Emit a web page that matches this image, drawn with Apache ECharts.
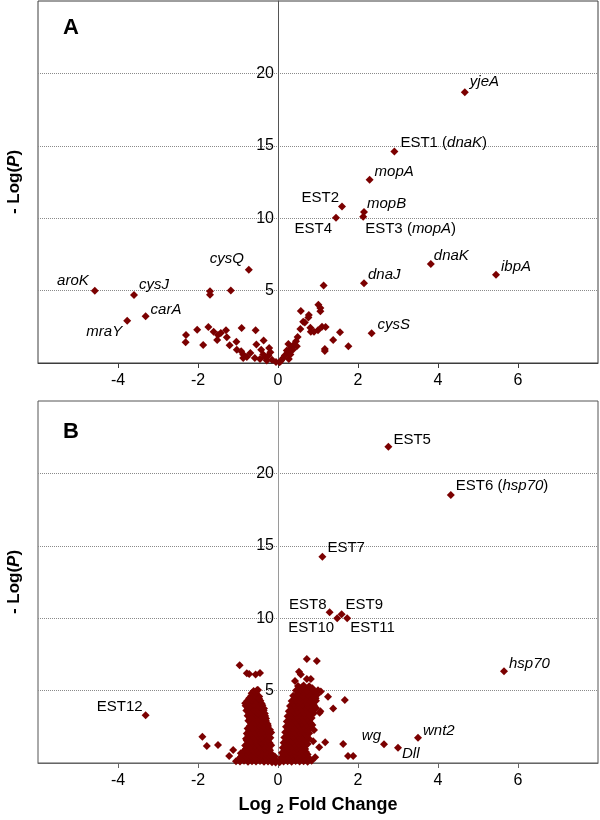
<!DOCTYPE html>
<html><head><meta charset="utf-8">
<script src="https://cdn.jsdelivr.net/npm/echarts@6/dist/echarts.min.js"></script>
<style>html,body{margin:0;padding:0;background:#fff}#c{width:600px;height:820px}</style>
</head><body><div id="c"></div>
<script>
// ---------- data ----------
const xRange = [-6, 8];
const yRange = [0, 25];

// Panel A: labelled genes
const aNames = ['yjeA','EST1 (dnaK)','mopA','EST2','mopB','EST3 (mopA)','EST4','dnaK','ibpA','dnaJ','cysS','cysQ','aroK','cysJ','carA','mraY'];
const aNameX = [4.67, 2.91, 2.29, 1.60, 2.15, 2.13, 1.45, 3.82, 5.45, 2.15, 2.34, -0.73, -4.58, -3.60, -3.31, -3.77];
const aNameY = [18.7, 14.6, 12.66, 10.8, 10.43, 10.1, 10.03, 6.84, 6.1, 5.5, 2.05, 6.44, 4.99, 4.7, 3.22, 2.92];
// Panel A: other points
const aOther = [
 [-1.7,4.95],[-1.7,4.72],[-1.18,5.0],[1.14,5.36],
 [1.01,4.03],[1.06,3.8],[1.06,3.57],[0.57,3.59],[0.77,3.31],[0.76,3.15],[0.63,2.85],[1.19,2.49],[1.0,2.26],[0.82,2.16],[0.56,2.35],[1.55,2.12],[0.81,2.44],[1.38,1.59],[1.76,1.15],[1.17,0.97],[1.17,0.83],[0.49,1.8],[0.45,1.5],[0.4,1.27],[0.26,1.31],[0.33,1.04],[0.22,0.87],[0.24,0.69],[0.17,0.51],[0.13,0.35],[0.08,0.18],[0.27,0.28],[0.37,0.92],[0.47,1.15],[0.04,0.05],[0.31,0.58],[0.67,2.8],[0.9,2.16],[1.1,2.5],
 [-2.3,1.93],[-2.31,1.43],[-2.02,2.3],[-1.87,1.24],[-1.74,2.49],[-1.61,2.16],[-1.5,1.93],[-1.52,1.59],[-1.43,2.07],[-1.3,2.26],[-1.28,1.77],[-1.21,1.22],[-1.04,1.47],[-0.91,2.42],[-0.56,2.26],[-1.03,0.92],[-0.92,0.81],[-0.87,0.58],[-0.87,0.35],[-0.69,0.69],[-0.54,1.27],[-0.36,1.56],[-0.42,0.92],[-0.22,1.04],[-0.58,0.35],[-0.45,0.28],[-0.33,0.41],[-0.24,0.51],[-0.15,0.23],[-0.05,0.07],[-0.28,0.18],[-0.78,0.41],[-0.37,0.58],[-0.19,0.74]
];

// Panel B: labelled genes
const bNames = ['EST5','EST6 (hsp70)','EST7','EST8','EST9','EST10','EST11','hsp70','EST12','wg','Dll','wnt2'];
const bNameX = [2.76, 4.32, 1.11, 1.29, 1.59, 1.48, 1.73, 5.65, -3.31, 2.65, 3.0, 3.5];
const bNameY = [21.84, 18.5, 14.24, 10.41, 10.28, 10.0, 10.0, 6.34, 3.29, 1.3, 1.05, 1.75];
// Panel B: scattered points
const bOutliers = [
 [-1.89,1.82],[-1.78,1.17],[-1.5,1.24],[-1.22,0.48],[-1.12,0.9],[-0.93,0.67],
 [-0.96,6.75],[-0.78,6.2],[-0.72,6.15],[-0.56,6.12],[-0.45,6.22],[-0.52,5.04],[-0.72,4.4],[-0.475,4.45],
 [0.72,7.18],[0.97,7.04],[0.525,6.31],[0.57,6.12],[0.425,5.66],[0.72,5.8],[0.82,5.8],[0.61,5.27],[0.86,5.16],[1.07,4.93],[0.97,4.7],[1.25,4.58],[1.67,4.35],[1.38,3.77],[1.04,3.47],[0.86,2.62],[0.9,2.28],[1.18,1.43],[1.03,1.08],[1.63,1.31],[0.93,0.39],[1.75,0.48],[1.88,0.48],[0.88,1.5],[1.06,3.57]
];
// Panel B: dense left arm
const bLeft = [
 [-1.05,0.12],[-0.95,0.1],[-0.85,0.15],[-0.75,0.08],[-0.65,0.12],[-0.55,0.1],[-0.45,0.14],[-0.35,0.08],[-0.25,0.1],[-0.15,0.05],[-0.06,0.04],
 [-0.98,0.28],[-0.86,0.3],[-0.74,0.26],[-0.62,0.3],[-0.5,0.27],[-0.38,0.3],[-0.27,0.26],[-0.16,0.22],[-0.05,0.18],
 [-0.92,0.45],[-0.8,0.42],[-0.68,0.48],[-0.56,0.4],[-0.44,0.46],[-0.32,0.43],[-0.21,0.38],[-0.1,0.3],
 [-0.89,0.62],[-0.77,0.64],[-0.65,0.6],[-0.53,0.63],[-0.41,0.6],[-0.3,0.62],[-0.2,0.55],[-0.08,0.45],
 [-0.86,0.82],[-0.74,0.78],[-0.62,0.85],[-0.5,0.76],[-0.38,0.8],[-0.27,0.74],[-0.16,0.62],
 [-0.8,0.98],[-0.68,1.0],[-0.56,0.96],[-0.44,0.99],[-0.32,0.97],[-0.2,0.88],
 [-0.82,1.2],[-0.7,1.12],[-0.58,1.18],[-0.46,1.1],[-0.34,1.15],[-0.23,1.02],
 [-0.76,1.33],[-0.64,1.35],[-0.52,1.31],[-0.4,1.34],[-0.28,1.32],[-0.17,1.22],
 [-0.78,1.55],[-0.66,1.48],[-0.54,1.52],[-0.42,1.45],[-0.31,1.5],[-0.21,1.38],
 [-0.8,1.68],[-0.68,1.7],[-0.56,1.66],[-0.45,1.69],[-0.34,1.67],[-0.24,1.6],
 [-0.74,1.9],[-0.62,1.82],[-0.5,1.88],[-0.39,1.8],[-0.28,1.86],[-0.19,1.75],
 [-0.78,2.03],[-0.66,2.05],[-0.55,2.01],[-0.44,2.04],[-0.33,2.02],[-0.23,1.96],
 [-0.72,2.22],[-0.6,2.16],[-0.49,2.24],[-0.38,2.15],[-0.27,2.2],[-0.17,2.1],
 [-0.76,2.38],[-0.64,2.4],[-0.53,2.36],[-0.42,2.39],[-0.31,2.37],[-0.2,2.3],
 [-0.7,2.58],[-0.58,2.5],[-0.47,2.56],[-0.36,2.5],[-0.25,2.55],
 [-0.67,2.72],[-0.56,2.74],[-0.45,2.7],[-0.34,2.73],[-0.26,2.7],
 [-0.74,2.92],[-0.62,2.86],[-0.51,2.9],[-0.4,2.84],[-0.3,2.9],
 [-0.7,3.08],[-0.59,3.1],[-0.48,3.06],[-0.37,3.09],[-0.3,3.07],
 [-0.76,3.26],[-0.65,3.2],[-0.54,3.28],[-0.43,3.22],[-0.32,3.24],
 [-0.72,3.43],[-0.61,3.45],[-0.5,3.41],[-0.4,3.44],[-0.33,3.42],
 [-0.79,3.62],[-0.68,3.56],[-0.57,3.6],[-0.46,3.55],[-0.36,3.62],
 [-0.75,3.78],[-0.64,3.8],[-0.53,3.76],[-0.42,3.79],[-0.35,3.77],
 [-0.81,3.96],[-0.7,3.9],[-0.59,3.98],[-0.48,3.92],[-0.39,3.98],
 [-0.82,4.12],[-0.72,4.14],[-0.6,4.1],[-0.5,4.13],[-0.41,4.11],
 [-0.77,4.28],[-0.65,4.32],[-0.54,4.26],[-0.44,4.3],
 [-0.72,4.48],[-0.6,4.5],[-0.5,4.46],
 [-0.67,4.62],[-0.56,4.68],[-0.47,4.6],
 [-0.66,4.82],[-0.55,4.84],
 [-0.61,4.98],[-0.5,5.05]
];
// Panel B: dense right arm
const bRight = [
 [0.04,0.05],[0.14,0.1],[0.24,0.12],[0.34,0.08],[0.44,0.14],[0.54,0.1],[0.64,0.12],[0.74,0.08],[0.84,0.15],
 [0.1,0.25],[0.2,0.27],[0.3,0.24],[0.4,0.28],[0.5,0.25],[0.6,0.27],[0.7,0.24],[0.8,0.28],
 [0.08,0.36],[0.18,0.45],[0.28,0.4],[0.38,0.48],[0.48,0.42],[0.58,0.46],[0.68,0.4],
 [0.13,0.6],[0.24,0.62],[0.34,0.58],[0.44,0.61],[0.54,0.6],[0.64,0.62],[0.74,0.58],
 [0.1,0.7],[0.2,0.82],[0.3,0.76],[0.4,0.84],[0.5,0.78],[0.6,0.82],[0.7,0.76],
 [0.17,0.95],[0.27,0.97],[0.37,0.93],[0.47,0.96],[0.57,0.94],[0.68,0.97],
 [0.12,1.05],[0.23,1.16],[0.34,1.1],[0.45,1.18],[0.56,1.12],[0.67,1.16],
 [0.19,1.3],[0.3,1.32],[0.41,1.28],[0.52,1.31],[0.63,1.29],[0.74,1.32],
 [0.14,1.4],[0.25,1.52],[0.36,1.46],[0.47,1.54],[0.58,1.48],[0.7,1.52],
 [0.21,1.68],[0.32,1.7],[0.43,1.66],[0.54,1.69],[0.65,1.67],[0.77,1.7],
 [0.16,1.76],[0.27,1.86],[0.38,1.8],[0.49,1.88],[0.6,1.82],[0.72,1.86],
 [0.23,2.03],[0.34,2.05],[0.45,2.01],[0.56,2.04],[0.68,2.02],[0.78,2.05],
 [0.18,2.12],[0.29,2.22],[0.4,2.16],[0.51,2.24],[0.62,2.18],[0.74,2.2],
 [0.25,2.38],[0.36,2.4],[0.47,2.36],[0.58,2.39],[0.7,2.37],[0.8,2.4],
 [0.2,2.5],[0.31,2.56],[0.42,2.52],[0.53,2.58],[0.64,2.52],[0.76,2.56],
 [0.27,2.72],[0.38,2.74],[0.49,2.7],[0.6,2.73],[0.72,2.71],[0.82,2.74],
 [0.22,2.86],[0.33,2.92],[0.44,2.88],[0.55,2.94],[0.66,2.88],[0.78,2.92],
 [0.29,3.08],[0.4,3.1],[0.51,3.06],[0.62,3.09],[0.74,3.07],[0.84,3.1],
 [0.24,3.22],[0.35,3.26],[0.46,3.2],[0.57,3.28],[0.68,3.22],[0.8,3.26],
 [0.32,3.43],[0.43,3.45],[0.54,3.41],[0.66,3.44],[0.78,3.42],[0.9,3.45],
 [0.27,3.58],[0.38,3.62],[0.49,3.56],[0.6,3.64],[0.72,3.58],[0.85,3.62],
 [0.35,3.78],[0.46,3.8],[0.57,3.76],[0.69,3.79],[0.82,3.77],[0.95,3.8],
 [0.3,3.94],[0.41,3.98],[0.52,3.92],[0.63,4.0],[0.75,3.94],[0.9,3.98],
 [0.39,4.12],[0.5,4.14],[0.62,4.1],[0.74,4.13],[0.86,4.11],
 [0.34,4.28],[0.45,4.32],[0.56,4.26],[0.68,4.34],[0.8,4.28],[0.95,4.3],
 [0.44,4.48],[0.56,4.5],[0.69,4.46],[0.82,4.49],[0.94,4.47],
 [0.38,4.64],[0.5,4.68],[0.62,4.62],[0.75,4.7],[0.88,4.64],
 [0.5,4.82],[0.64,4.84],[0.78,4.8],[0.92,4.83],
 [0.45,5.0],[0.58,5.04],[0.72,4.98],[0.85,5.06],[1.0,5.02],
 [0.56,5.15],[0.7,5.17],[0.84,5.14],
 [0.5,5.32],[0.64,5.36],[0.78,5.3]
];

// ---------- label placement (style) ----------
// [side, dx from point centre to text edge, dy]
const aLabelPos = [['r',5,-10],['r',6,-9],['r',5,-8],['l',-3,-9],['r',3,-8],['r',2,12],['l',-4,11],['r',3,-8],['r',5,-8],['r',4,-9],['r',6,-8],['l',-5,-11],['l',-6,-10],['r',5,-10],['r',5,-7],['l',-5,11]];
const bLabelPos = [['r',5,-7],['r',5,-9],['r',5,-9],['l',-3,-7],['r',4,-9],['l',-3,10],['r',3,10],['r',5,-7],['l',-3,-9],['l',-3,-8],['r',4,6],['r',5,-7]];

const FONT = '"Liberation Sans", Arial, sans-serif';
const RED = '#7b0000';
const SYM = 8;
const GRID_LEFT = 38, GRID_W = 560;
// pixel offset that puts the y axis on x = 0
const Y_OFFSET = -GRID_W * (0 - xRange[0]) / (xRange[1] - xRange[0]);

function richName(n) {
  if (n.startsWith('EST')) {
    const m = n.match(/^(EST\d+)(?: \((.*)\))?$/);
    if (m[2]) return '{n|' + m[1] + ' (}{i|' + m[2] + '}{n|)}';
    return '{n|' + m[1] + '}';
  }
  return '{i|' + n + '}';
}
const rich = {
  n: {fontSize: 15, fontFamily: FONT, color: '#000'},
  i: {fontSize: 15, fontFamily: FONT, color: '#000', fontStyle: 'italic'}
};
function labelled(names, xs, ys, pos) {
  return names.map((n, k) => {
    const p = pos[k];
    const right = p[0] === 'r';
    return {
      value: [xs[k], ys[k]],
      label: {
        show: true,
        color: '#000',
        position: right ? 'right' : 'left',
        distance: 0,
        offset: [right ? p[1] - SYM/2 : p[1] + SYM/2, p[2]],
        formatter: richName(n),
        rich: rich
      }
    };
  });
}

function xAxisCfg(g, lineColor) {
  return {
    gridIndex: g, type: 'value', min: xRange[0], max: xRange[1], interval: 2,
    axisLine: {onZero: false, lineStyle: {color: lineColor, width: 1}},
    axisTick: {show: true, length: 5, lineStyle: {color: lineColor}},
    axisLabel: {fontSize: 16, fontFamily: FONT, color: '#000', margin: 10, showMinLabel: false, showMaxLabel: false},
    splitLine: {show: false}
  };
}
function yAxisCfg(g, lineColor) {
  return {
    gridIndex: g, type: 'value', min: yRange[0], max: yRange[1], interval: 5,
    position: 'left', offset: Y_OFFSET,
    axisLine: {show: true, onZero: false, lineStyle: {color: lineColor, width: 1}},
    axisTick: {show: false},
    axisLabel: {fontSize: 16, fontFamily: FONT, color: '#000', margin: 4, showMinLabel: false, showMaxLabel: false},
    splitLine: {show: true, showMinLine: false, showMaxLine: false, lineStyle: {type: 'dotted', color: '#8a8a8a', width: 1}}
  };
}

const chart = echarts.init(document.getElementById('c'), null, {renderer: 'canvas'});
const yName = '{b|- Log(}{bi|P}{b|)}';
const yRich = {
  b: {fontSize: 17, fontWeight: 'bold', fontFamily: FONT, fill: '#000'},
  bi: {fontSize: 17, fontWeight: 'bold', fontStyle: 'italic', fontFamily: FONT, fill: '#000'}
};
const pointStyle = {color: RED, opacity: 1};
chart.setOption({
  animation: false,
  backgroundColor: '#fff',
  grid: [
    {left: GRID_LEFT, top: 1, width: GRID_W, height: 362, show: true, borderColor: '#3c3c3c', borderWidth: 1},
    {left: GRID_LEFT, top: 401, width: GRID_W, height: 362, show: true, borderColor: '#555', borderWidth: 1}
  ],
  xAxis: [xAxisCfg(0, '#3c3c3c'), xAxisCfg(1, '#666')],
  yAxis: [yAxisCfg(0, '#555'), yAxisCfg(1, '#9a9a9a')],
  series: [
    {type: 'scatter', xAxisIndex: 0, yAxisIndex: 0, symbol: 'diamond', symbolSize: SYM,
     itemStyle: pointStyle, silent: true,
     data: aOther.concat(labelled(aNames, aNameX, aNameY, aLabelPos))},
    {type: 'scatter', xAxisIndex: 1, yAxisIndex: 1, symbol: 'diamond', symbolSize: SYM,
     itemStyle: pointStyle, silent: true, large: false,
     data: bLeft.concat(bRight, bOutliers, labelled(bNames, bNameX, bNameY, bLabelPos))}
  ],
  graphic: [
    {type: 'text', x: 63, y: 28, style: {text: 'A', fontSize: 22, fontWeight: 'bold', fontFamily: FONT, fill: '#000', verticalAlign: 'middle', align: 'left'}},
    {type: 'text', x: 63, y: 432, style: {text: 'B', fontSize: 22, fontWeight: 'bold', fontFamily: FONT, fill: '#000', verticalAlign: 'middle', align: 'left'}},
    {type: 'text', x: 14, y: 182, rotation: Math.PI / 2, style: {text: yName, rich: yRich, align: 'center', verticalAlign: 'middle'}},
    {type: 'text', x: 14, y: 582, rotation: Math.PI / 2, style: {text: yName, rich: yRich, align: 'center', verticalAlign: 'middle'}},
    {type: 'text', x: 318, y: 805, style: {
      text: '{b|Log }{s|2}{b| Fold Change}', align: 'center', verticalAlign: 'middle',
      rich: {
        b: {fontSize: 18, fontWeight: 'bold', fontFamily: FONT, fill: '#000', lineHeight: 22},
        s: {fontSize: 13, fontWeight: 'bold', fontFamily: FONT, fill: '#000', lineHeight: 22, padding: [9, 0, 0, 0]}
      }
    }}
  ]
});
</script></body></html>
